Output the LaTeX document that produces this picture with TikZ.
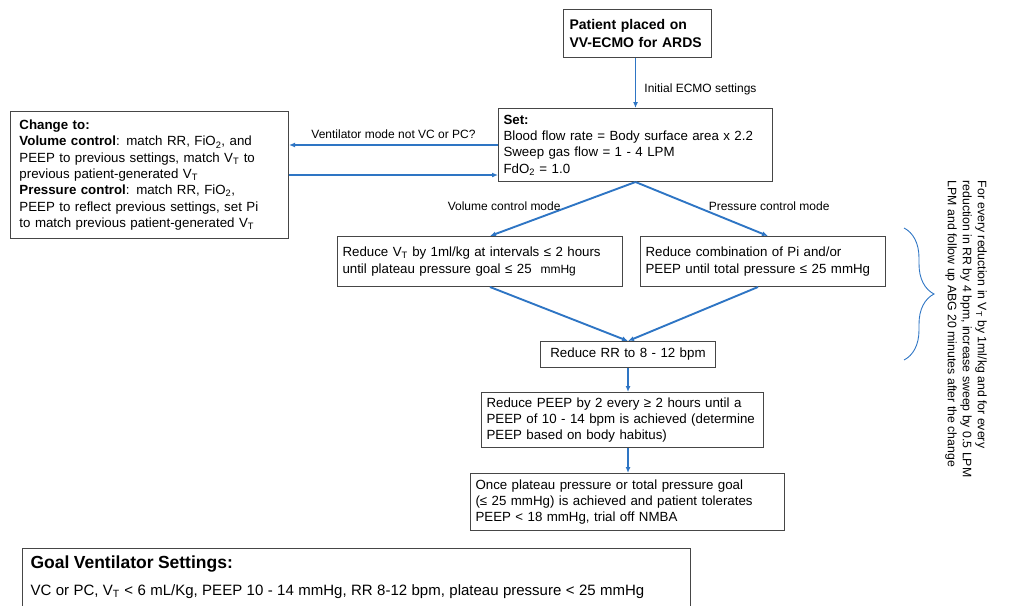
\documentclass[tikz,border=0pt]{standalone}
\usepackage{fontspec}
\setmainfont{Liberation Sans}
\usetikzlibrary{arrows.meta,decorations.pathreplacing}

\definecolor{flowblue}{RGB}{46,117,196}
\definecolor{boxline}{RGB}{70,70,70}

\newcommand{\boxfont}{\fontsize{13.3}{16.3}\selectfont}
\newcommand{\lblfont}{\fontsize{12}{14}\selectfont}

\tikzset{
  stepbox/.style={draw=boxline, line width=1pt, fill=white, align=left,
    anchor=north west, inner xsep=5pt, font=\boxfont},
  flow/.style={draw=flowblue, line width=1.9pt, -{Latex[length=6pt,width=5pt]}},
  lbl/.style={font=\lblfont, inner sep=2pt}
}

\begin{document}
\begin{tikzpicture}[x=1pt,y=-1pt]
	\useasboundingbox (0,0) rectangle (1011,605);
	
	% boxes
	\node[stepbox, font=\fontsize{14}{17.5}\selectfont\bfseries, inner xsep=6pt, text width=136pt, minimum height=48pt] (patient) at (563,9) {Patient placed on\\VV-ECMO for ARDS};
	\node[stepbox, text width=264pt, minimum height=73pt] (set) at (498,108) {\textbf{Set:}\\Blood flow rate = Body surface area x 2.2\\Sweep gas flow = 1 - 4 LPM\\FdO\textsubscript{2} = 1.0};
	\node[stepbox, inner xsep=9pt, text width=260pt, minimum height=127pt] (change) at (10,111) {\textbf{Change to:}\\
		\textbf{Volume control}: match RR, FiO\textsubscript{2}, and\\
		PEEP to previous settings, match V\textsubscript{T} to\\
		previous patient-generated V\textsubscript{T}\\
		\textbf{Pressure control}: match RR, FiO\textsubscript{2},\\
		PEEP to reflect previous settings, set Pi\\
		to match previous patient-generated V\textsubscript{T}};
	\node[stepbox, text width=275pt, minimum height=50pt] (vc) at (337,236) {Reduce V\textsubscript{T} by 1ml/kg at intervals ≤ 2 hours\\until plateau pressure goal ≤ 25 ~{\fontsize{12}{14}\selectfont mmHg}};
	\node[stepbox, text width=235pt, minimum height=50pt] (pc) at (640,236) {Reduce combination of Pi and/or\\PEEP until total pressure ≤ 25 mmHg};
	\node[stepbox, align=center, text width=165pt, minimum height=26pt] (rr) at (540,341) {Reduce RR to 8 - 12 bpm};
	\node[stepbox, text width=272pt, minimum height=55pt] (peep) at (481,392) {Reduce PEEP by 2 every ≥ 2 hours until a\\PEEP of 10 - 14 bpm is achieved (determine\\PEEP based on body habitus)};
	\node[stepbox, text width=304pt, minimum height=57pt] (trial) at (470,473) {Once plateau pressure or total pressure goal\\(≤ 25 mmHg) is achieved and patient tolerates\\PEEP < 18 mmHg, trial off NMBA};
	\node[stepbox, inner xsep=8pt, inner ysep=7pt, text width=652pt] (goal) at (22,548) {{\fontsize{17.5}{19}\selectfont\bfseries Goal Ventilator Settings:}\\[11pt]
		{\fontsize{15}{17}\selectfont VC or PC, V\textsubscript{T} < 6 mL/Kg, PEEP 10 - 14 mmHg, RR 8-12 bpm, plateau pressure < 25 mmHg}\\[12pt]\mbox{}};
	
	% arrows
	\draw[flow] (patient.south -| set.north) -- (set.north) node[lbl, pos=0.62, right=6pt] (initlbl) {Initial ECMO settings};
	\draw[flow] (set.west) -- (set.west -| change.east) node[lbl, midway, above=3pt] (modelbl) {Ventilator mode not VC or PC?};
	\coordinate (back) at ([yshift=-30pt]set.west);
	\draw[flow] (back -| change.east) -- (back);
	\draw[flow] (set.south) -- ([xshift=10pt]vc.north) node[lbl, pos=0.44, left=8pt] (vclbl) {Volume control mode};
	\draw[flow] (set.south) -- ([xshift=5pt]pc.north) node[lbl, pos=0.44, right=12pt] (pclbl) {Pressure control mode};
	\draw[flow] ([xshift=10pt]vc.south) -- (rr.north);
	\draw[flow] ([xshift=-5pt]pc.south) -- (rr.north);
	\draw[flow] (rr.south) -- (rr.south |- peep.north);
	\draw[flow] (rr.south |- peep.south) -- (rr.south |- trial.north);
	
	% brace and note
	\coordinate (brtop) at (904,228);
	\coordinate (brbot) at (904,360);
	\draw[flowblue, line width=0.9pt, decorate, decoration={brace, amplitude=30pt}] (brtop) -- (brbot);
	\node[lbl, rotate=-90, align=left, font=\fontsize{12.3}{15}\selectfont] (note) at (966,329) {For every reduction in V\textsubscript{T} by 1ml/kg and for every\\reduction in RR by 4 bpm, increase sweep by 0.5 LPM\\LPM and follow up ABG 20 minutes after the change};
\end{tikzpicture}
\end{document}
